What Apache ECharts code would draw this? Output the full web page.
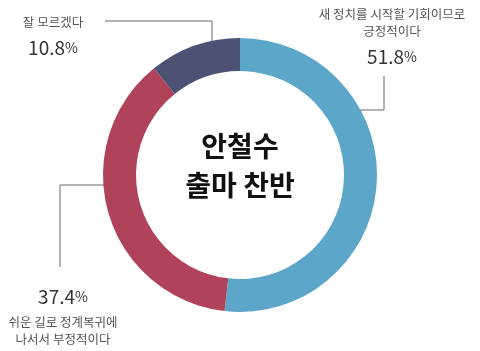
<!DOCTYPE html>
<html>
<head>
<meta charset="utf-8">
<script src="https://cdn.jsdelivr.net/npm/echarts@6/dist/echarts.min.js"></script>
<style>
  html, body { margin: 0; padding: 0; background: #fff; }
  #chart { width: 480px; height: 351px; }
</style>
</head>
<body>
<div id="chart"></div>
<script>
// 데이터
const categories = ['새 정치를 시작할 기회이므로\n긍정적이다', '쉬운 길로 정계복귀에\n나서서 부정적이다', '잘 모르겠다'];
const values = [51.8, 37.4, 10.8];
const colors = ['#5ba6c9', '#b0425a', '#4b5273'];
const centerTitle = '안철수\n출마 찬반';

const font = '"Noto Sans CJK KR", "Noto Sans", sans-serif';

// 라벨 위치 / 꺾은선 (픽셀)
const labelPos = [
  { x: 392, y: 6, line: [[347, 110], [384, 110], [384, 76]] },
  { x: 63, y: 280, line: [[122, 185], [60, 185], [60, 267]] },
  { x: 53, y: 14, line: [[212, 56], [212, 21], [105, 21]] }
];

function fmt(p) {
  const names = p.name.split('\n').map(s => '{n|' + s + '}').join('\n');
  const pct = '{p|' + p.value.toFixed(1) + '}{s|%}';
  if (p.dataIndex === 1) return pct + '\n' + names;
  return names + '\n' + pct;
}

const chart = echarts.init(document.getElementById('chart'));
chart.setOption({
  backgroundColor: '#fff',
  animation: false,
  graphic: [{
    type: 'text',
    left: 'center',
    top: 127,
    style: {
      text: centerTitle,
      fill: '#111',
      font: 'bold 28px ' + font,
      textAlign: 'center',
      lineHeight: 39
    }
  }],
  series: [{
    type: 'pie',
    center: [240, 175],
    radius: [104, 137],
    startAngle: 90,
    clockwise: true,
    data: categories.map((c, i) => ({ name: c, value: values[i], itemStyle: { color: colors[i] } })),
    label: {
      show: true,
      formatter: fmt,
      align: 'center',
      overflow: 'none',
      rich: {
        n: { fontSize: 12.5, color: '#555', lineHeight: 17, fontFamily: font },
        p: { fontSize: 19, color: '#333', lineHeight: 34, fontFamily: font },
        s: { fontSize: 14, color: '#333', lineHeight: 34, fontFamily: font }
      }
    },
    labelLine: {
      show: true,
      lineStyle: { color: '#666', width: 1 }
    },
    labelLayout: function (params) {
      const lp = labelPos[params.dataIndex];
      return {
        x: lp.x,
        y: lp.y,
        width: 200,
        align: 'center',
        verticalAlign: 'top',
        labelLinePoints: lp.line
      };
    },
    emphasis: { disabled: true }
  }]
});
</script>
</body>
</html>
